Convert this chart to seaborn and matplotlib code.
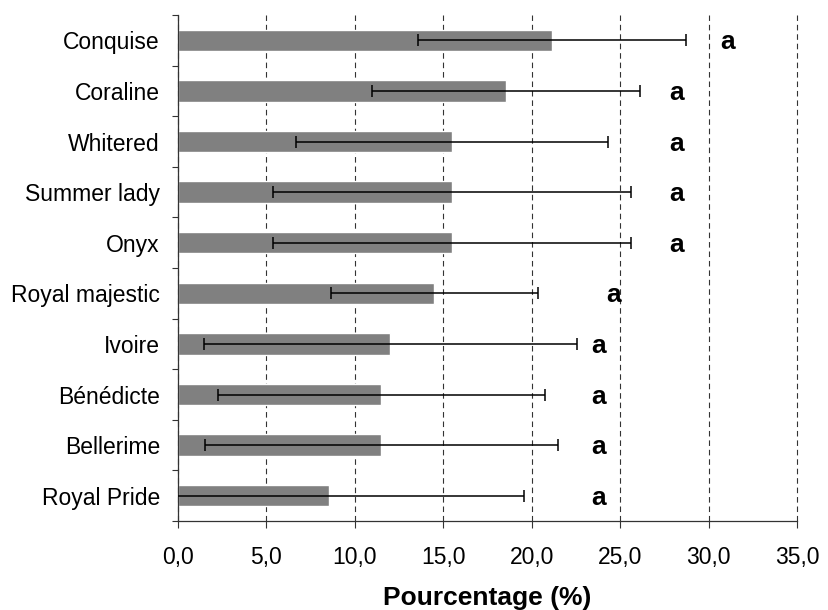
import pandas as pd
import seaborn as sns
import matplotlib.pyplot as plt
from matplotlib.ticker import FixedLocator, FuncFormatter, MultipleLocator

# valeurs
varietes = ['Conquise', 'Coraline', 'Whitered', 'Summer lady', 'Onyx',
            'Royal majestic', 'Ivoire', 'Bénédicte', 'Bellerime', 'Royal Pride']
moyennes = [21.15, 18.55, 15.5, 15.5, 15.5, 14.5, 12.0, 11.5, 11.5, 8.55]
erreurs = [7.6, 7.6, 8.8, 10.1, 10.1, 5.85, 10.55, 9.25, 10.0, 11.0]
lettres = ['a'] * 10
pos_lettres = [31.1, 28.2, 28.2, 28.2, 28.2, 24.65, 23.8, 23.8, 23.8, 23.8]

df = pd.DataFrame({'Variete': varietes, 'Pourcentage': moyennes, 'Erreur': erreurs})

sns.set_style('white', {'text.color': 'black', 'axes.labelcolor': 'black',
                        'xtick.color': 'black', 'ytick.color': 'black'})
plt.rcParams['font.family'] = ['Liberation Sans', 'DejaVu Sans']

fig = plt.figure(figsize=(8.29, 6.10), dpi=100)
ax = fig.add_axes([0.2147, 0.1459, 0.9614 - 0.2147, 0.9754 - 0.1459])

sns.barplot(data=df, x='Pourcentage', y='Variete', orient='h', color='#808080',
            saturation=1, width=0.42, ax=ax, zorder=2)
ax.errorbar(df['Pourcentage'], range(len(df)), xerr=df['Erreur'], fmt='none',
            ecolor='black', elinewidth=1.1, capsize=4.2, capthick=1.1, zorder=3)

for i, (x, t) in enumerate(zip(pos_lettres, lettres)):
    ax.text(x, i + 0.04, t, ha='center', va='center', fontsize=19,
            fontweight='bold', color='black')

ax.set_xlim(0, 35)
ax.set_ylim(len(df) - 0.5, -0.5)
ax.xaxis.set_major_locator(MultipleLocator(5))
ax.xaxis.set_major_formatter(FuncFormatter(lambda v, _: f'{v:.1f}'.replace('.', ',')))
ax.grid(axis='x', linestyle=(0, (5, 3.5)), color='#333333', linewidth=0.8, zorder=1)
ax.grid(axis='y', visible=False)
ax.set_axisbelow(True)
for gl in ax.xaxis.get_gridlines():
    gl.set_clip_on(False)

ax.yaxis.set_minor_locator(FixedLocator([i - 0.5 for i in range(len(df) + 1)]))
ax.tick_params(axis='y', which='major', length=0, pad=13, labelsize=16.5)
ax.tick_params(axis='y', which='minor', length=4.3, width=0.8, color='#333333', left=True)
ax.tick_params(axis='x', which='major', length=5, width=0.8, color='#333333',
               pad=13, labelsize=16.5, bottom=True)

for s in ['top', 'right']:
    ax.spines[s].set_visible(False)
for s in ['left', 'bottom']:
    ax.spines[s].set_color('#333333')
    ax.spines[s].set_linewidth(0.9)

ax.set_ylabel('')
ax.set_xlabel('Pourcentage (%)', fontsize=19, fontweight='bold', labelpad=12)

plt.savefig('out.png', dpi=100)
